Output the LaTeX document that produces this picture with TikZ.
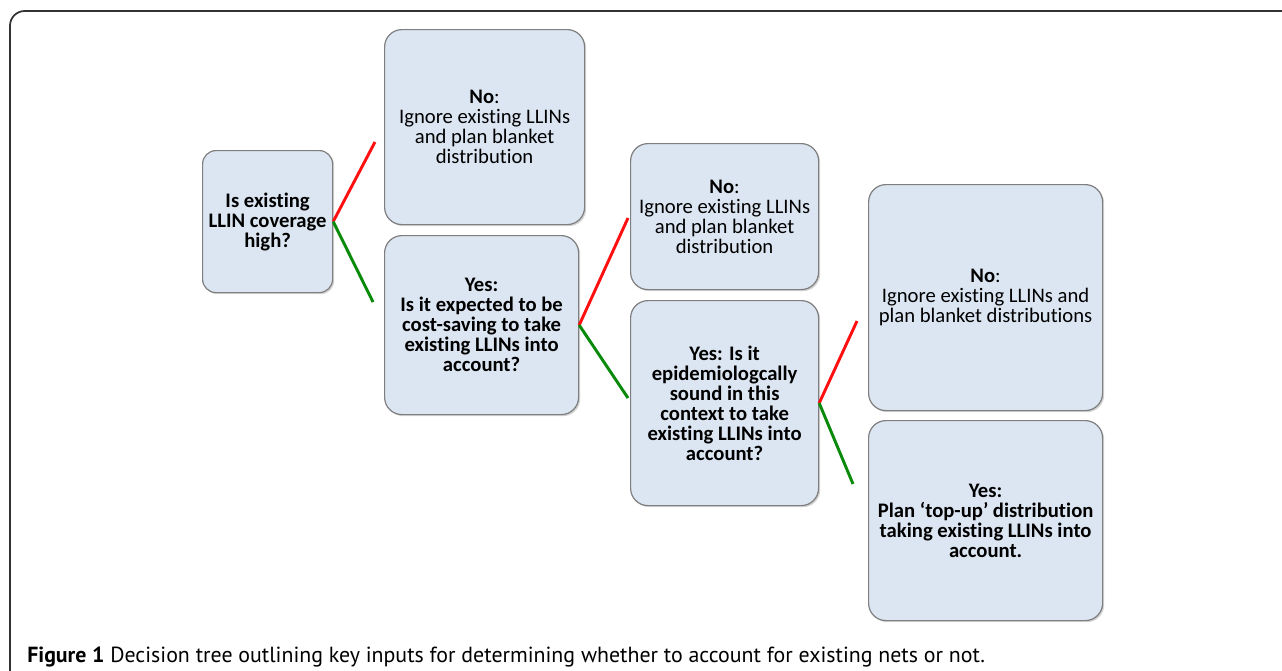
\documentclass[tikz,border=0pt]{standalone}
\usepackage{fontspec}
\setmainfont[Ligatures=NoCommon]{Carlito}
\newfontfamily\capfont{PT Sans}
\usetikzlibrary{positioning,shadows}

\definecolor{boxfill}{HTML}{DCE6F2}
\definecolor{boxline}{HTML}{7F7F7F}
\definecolor{nored}{HTML}{FF1010}
\definecolor{yesgreen}{HTML}{0A8A0A}

\begin{document}
\begin{tikzpicture}[
x=0.75pt, y=-0.75pt,
element/.style={rectangle, rounded corners=13pt, draw=boxline, line width=0.9pt,
  fill=boxfill, align=center, anchor=north west, inner sep=2pt,
  font=\fontsize{15.5}{15}\selectfont,
  drop shadow={shadow xshift=1.2pt, shadow yshift=-1.2pt, opacity=0.35}},
noline/.style={draw=nored, line width=2.2pt},
yesline/.style={draw=yesgreen, line width=2.2pt},
]

\useasboundingbox (0,0) rectangle (1282,671);

% outer frame
\draw[line width=1.3pt, draw=black!80, rounded corners=11pt] (10,671) -- (10,11) -- (1282,11);

\node[element, rounded corners=10pt, minimum width=97.5pt, minimum height=106.5pt] (nq1) at (202,150)
  {\bfseries Is existing\\\bfseries LLIN coverage\\\bfseries high?};

\node[element, minimum width=150pt, minimum height=146.25pt] (nno1) at (384,29)
  {\textbf{No}:\\Ignore existing LLINs\\and plan blanket\\distribution};
\node[element, minimum width=145.5pt, minimum height=134.25pt] (nyes1) at (384,235)
  {\bfseries Yes:\\\bfseries Is it expected to be\\\bfseries cost-saving to take\\\bfseries existing LLINs into\\\bfseries account?};

\node[element, minimum width=141pt, minimum height=109.5pt] (nno2) at (630,143)
  {\textbf{No}:\\Ignore existing LLINs\\and plan blanket\\distribution};
\node[element, minimum width=141pt, minimum height=153.75pt] (nyes2) at (630,300)
  {\bfseries Yes: Is it\\\bfseries epidemiologcally\\\bfseries sound in this\\\bfseries context to take\\\bfseries existing LLINs into\\\bfseries account?};

\node[element, minimum width=175.5pt, minimum height=169.5pt] (nno3) at (868,184)
  {\textbf{No}:\\Ignore existing LLINs and\\plan blanket distributions};
\node[element, minimum width=175.5pt, minimum height=150pt] (nyes3) at (868,420)
  {\bfseries Yes:\\\bfseries Plan ‘top-up’ distribution\\\bfseries taking existing LLINs into\\\bfseries account.};

% branch ends
\coordinate (tno1) at (375,142);
\coordinate (tyes1) at (373,302);
\coordinate (tno2) at (628,218);
\coordinate (tyes2) at (628,398);
\coordinate (tno3) at (857,321);
\coordinate (tyes3) at (853,484);

\draw[noline] (nq1.east) -- (tno1);
\draw[yesline] (nq1.east) -- (tyes1);
\draw[noline] (nyes1.east) -- (tno2);
\draw[yesline] (nyes1.east) -- (tyes2);
\draw[noline] (nyes2.east) -- (tno3);
\draw[yesline] (nyes2.east) -- (tyes3);

\node[anchor=base west, inner sep=0pt, font=\capfont\fontsize{16.4}{18}\selectfont] (ncap) at (27,662)
  {\textbf{Figure 1} Decision tree outlining key inputs for determining whether to account for existing nets or not.};

\end{tikzpicture}
\end{document}
